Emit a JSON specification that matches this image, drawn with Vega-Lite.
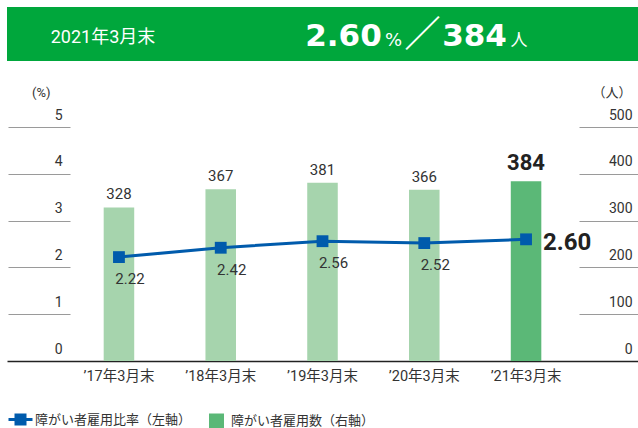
{
  "$schema": "https://vega.github.io/schema/vega-lite/v6.json",
  "padding": {"left": 7, "top": 7, "right": 0, "bottom": 0},
  "background": "white",
  "spacing": 25,
  "config": {
    "font": "Roboto, Noto Sans CJK JP",
    "view": {"stroke": null}
  },
  "vconcat": [
    {
      "width": 631,
      "height": 54,
      "view": {"fill": "#00a73c", "stroke": null},
      "data": {"values": [{"date": "2021年3月末", "rate": "2.60", "pct": "%", "slash": "／", "count": "384", "unit": "人"}]},
      "layer": [
        {"mark": {"type": "text", "x": 96, "y": 31, "align": "center", "baseline": "middle", "fontSize": 18, "color": "white", "font": "Roboto, Noto Sans CJK JP"}, "encoding": {"text": {"field": "date"}}},
        {"mark": {"type": "text", "x": 336.5, "y": 39, "align": "center", "baseline": "alphabetic", "fontSize": 31, "fontWeight": "bold", "color": "white", "font": "DejaVu Sans"}, "encoding": {"text": {"field": "rate"}}},
        {"mark": {"type": "text", "x": 386.5, "y": 39, "align": "center", "baseline": "alphabetic", "fontSize": 18, "color": "white", "font": "DejaVu Sans"}, "encoding": {"text": {"field": "pct"}}},
        {"mark": {"type": "text", "x": 415.5, "y": 29, "align": "center", "baseline": "middle", "fontSize": 36, "fontWeight": "bold", "color": "white", "font": "Noto Sans CJK JP"}, "encoding": {"text": {"field": "slash"}}},
        {"mark": {"type": "text", "x": 467.5, "y": 39, "align": "center", "baseline": "alphabetic", "fontSize": 31, "fontWeight": "bold", "color": "white", "font": "DejaVu Sans"}, "encoding": {"text": {"field": "count"}}},
        {"mark": {"type": "text", "x": 512, "y": 39, "align": "center", "baseline": "alphabetic", "fontSize": 17, "color": "white", "font": "Noto Sans CJK JP"}, "encoding": {"text": {"field": "unit"}}}
      ]
    },
    {
      "width": 631,
      "height": 234,
      "data": {"values": [
        {"year": "’17年3月末", "rate": 2.22, "count": 328},
        {"year": "’18年3月末", "rate": 2.42, "count": 367},
        {"year": "’19年3月末", "rate": 2.56, "count": 381},
        {"year": "’20年3月末", "rate": 2.52, "count": 366},
        {"year": "’21年3月末", "rate": 2.60, "count": 384}
      ]},
      "encoding": {
        "x": {
          "field": "year", "type": "nominal", "sort": null,
          "scale": {"paddingInner": 0.7, "paddingOuter": 0.95},
          "axis": {"title": null, "domain": true, "domainColor": "#222", "domainWidth": 1.5, "ticks": false, "tickSize": 0, "labelPadding": 8, "labelFontSize": 14.5, "labelColor": "#333", "labelAngle": 0}
        }
      },
      "layer": [
        {
          "encoding": {
            "y": {
              "field": "count", "type": "quantitative",
              "scale": {"domain": [0, 500]},
              "axis": {
                "orient": "right", "offset": -59, "values": [0, 100, 200, 300, 400, 500],
                "tickSize": 59, "tickWidth": 1.2,
                "tickColor": {"condition": {"test": "datum.value === 0", "value": "#222"}, "value": "#9a9a9a"},
                "domain": false, "grid": false,
                "labelAlign": "right", "labelPadding": -6, "labelBaseline": "alphabetic", "labelOffset": -8,
                "labelFontSize": 14, "labelColor": "#333",
                "title": "（人）", "titleAngle": 0, "titleAlign": "right", "titleBaseline": "alphabetic",
                "titleX": 52, "titleY": -31, "titleFontSize": 13, "titleFontWeight": "normal", "titleColor": "#333"
              }
            }
          },
          "layer": [
            {
              "mark": {"type": "bar"},
              "encoding": {
                "color": {"datum": "障がい者雇用数（右軸）", "condition": {"test": "datum.year !== '’21年3月末'", "value": "#a6d4ad"}}
              }
            },
            {
              "transform": [{"filter": "datum.year !== '’21年3月末'"}],
              "mark": {"type": "text", "baseline": "alphabetic", "dy": -8, "fontSize": 15, "color": "#333"},
              "encoding": {"text": {"field": "count", "type": "quantitative"}}
            },
            {
              "transform": [{"filter": "datum.year === '’21年3月末'"}],
              "mark": {"type": "text", "baseline": "alphabetic", "dy": -11, "fontSize": 22, "fontWeight": "bold", "color": "#222"},
              "encoding": {"text": {"field": "count", "type": "quantitative"}}
            }
          ]
        },
        {
          "encoding": {
            "y": {
              "field": "rate", "type": "quantitative",
              "scale": {"domain": [0, 5]},
              "axis": {
                "orient": "left", "offset": -63, "values": [0, 1, 2, 3, 4, 5],
                "tickSize": 62, "tickWidth": 1.2,
                "tickColor": {"condition": {"test": "datum.value === 0", "value": "#222"}, "value": "#9a9a9a"},
                "domain": false, "grid": false,
                "labelAlign": "right", "labelPadding": -54, "labelBaseline": "alphabetic", "labelOffset": -8,
                "labelFontSize": 14, "labelColor": "#333",
                "title": "(%)", "titleAngle": 0, "titleAlign": "right", "titleBaseline": "alphabetic",
                "titleX": -20, "titleY": -31, "titleFontSize": 13, "titleFontWeight": "normal", "titleColor": "#333"
              }
            }
          },
          "layer": [
            {
              "mark": {"type": "line", "strokeWidth": 3},
              "encoding": {
                "color": {
                  "datum": "障がい者雇用比率（左軸）",
                  "scale": {"domain": ["障がい者雇用比率（左軸）", "障がい者雇用数（右軸）"], "range": ["#005bac", "#5bb877"]},
                  "legend": {
                    "orient": "none", "legendX": 7, "legendY": 406, "direction": "horizontal", "title": null,
                    "labelFontSize": 13, "labelColor": "#333", "labelLimit": 400, "labelFont": "Noto Sans CJK JP",
                    "symbolSize": 576, "labelOffset": 8, "columnPadding": 17, "padding": 0,
                    "encode": {
                      "symbols": {
                        "update": {
                          "shape": {"signal": "datum.value === '障がい者雇用比率（左軸）' ? 'M-1,0H1M-0.375,-0.375H0.375V0.375H-0.375Z' : 'M-0.625,-0.625H0.625V0.625H-0.625Z'"},
                          "fill": {"signal": "datum.value === '障がい者雇用比率（左軸）' ? '#005bac' : '#5bb877'"},
                          "stroke": {"signal": "datum.value === '障がい者雇用比率（左軸）' ? '#005bac' : '#5bb877'"},
                          "strokeWidth": {"signal": "datum.value === '障がい者雇用比率（左軸）' ? 3 : 0"},
                          "opacity": {"value": 1},
                          "fillOpacity": {"value": 1},
                          "strokeOpacity": {"value": 1}
                        }
                      }
                    }
                  }
                }
              }
            },
            {
              "mark": {"type": "point", "shape": "square", "filled": true, "size": 140, "opacity": 1},
              "encoding": {"color": {"datum": "障がい者雇用比率（左軸）"}}
            },
            {
              "transform": [{"filter": "datum.year !== '’21年3月末'"}],
              "mark": {"type": "text", "baseline": "middle", "dx": 11, "dy": 22, "fontSize": 15, "color": "#333"},
              "encoding": {"text": {"field": "rate", "type": "quantitative", "format": ".2f"}}
            },
            {
              "transform": [{"filter": "datum.year === '’21年3月末'"}],
              "mark": {"type": "text", "align": "left", "baseline": "middle", "dx": 17, "dy": 4, "fontSize": 24, "fontWeight": "bold", "color": "#222"},
              "encoding": {"text": {"field": "rate", "type": "quantitative", "format": ".2f"}}
            }
          ]
        }
      ],
      "resolve": {"scale": {"y": "independent"}}
    }
  ]
}
